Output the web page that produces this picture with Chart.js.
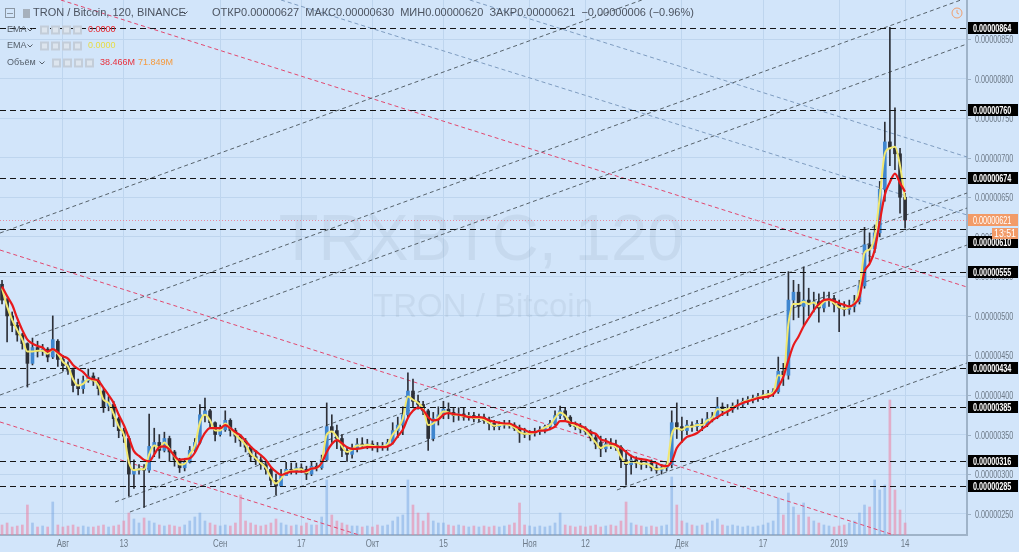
<!DOCTYPE html>
<html>
<head>
<meta charset="utf-8">
<title>TRXBTC, 120</title>
<script src="https://cdn.jsdelivr.net/npm/chart.js@4.4.1/dist/chart.umd.min.js"></script>
<style>
  html, body { margin: 0; padding: 0; background: #d2e5fa; }
  canvas { display: block; }
</style>
</head>
<body>
<canvas id="chart" width="1019" height="552"></canvas>
<script>
// day index: 0 = 1 Aug 2018, one candle per day
const firstDay = -12;

const openP = [
  540,520,500,488,476,465,440,460,455,458,448,468,
  445,437,432,412,408,418,424,418,405,386,388,370,
  355,345,300,305,307,305,335,340,330,345,328,318,
  308,315,330,340,375,380,365,350,356,368,355,348,
  342,334,322,318,312,306,292,285,298,306,304,308,
  306,300,310,308,318,360,355,345,330,325,333,338,
  336,338,336,334,336,340,355,362,375,405,392,388,
  380,345,370,375,382,378,374,376,372,374,370,372,
  368,364,360,362,364,362,358,352,350,352,354,356,
  360,364,374,380,372,362,360,357,354,346,340,332,
  338,336,334,318,312,318,314,312,314,308,305,308,
  312,365,360,355,362,360,364,362,370,372,385,380,
  382,386,388,392,394,396,398,400,402,404,430,425,
  520,530,512,520,515,518,510,520,522,515,510,508,
  512,518,538,590,585,605,660,720,712,705,650
];
const highP = [
  545,522,505,492,478,466,472,468,464,460,500,470,
  450,442,434,420,424,433,428,422,408,398,392,372,
  358,348,318,312,312,376,358,350,353,348,330,320,
  320,335,345,388,396,382,366,362,380,370,358,350,
  345,335,328,322,316,308,300,306,315,314,314,313,
  310,316,314,324,390,375,362,350,334,338,345,346,
  344,342,340,340,344,365,372,385,428,420,400,392,
  382,378,385,392,390,383,384,384,378,378,376,376,
  372,368,366,368,368,365,362,358,355,358,360,362,
  368,380,386,384,374,366,364,360,356,350,348,345,
  345,343,336,330,324,322,320,318,318,312,312,316,
  380,390,372,368,366,368,370,378,378,397,390,388,
  390,394,396,398,400,402,406,406,408,448,440,556,
  545,540,562,535,530,528,530,530,526,520,518,520,
  526,545,612,605,615,670,745,865,763,712,655
];
const lowP = [
  515,467,480,468,458,410,438,448,450,442,446,436,
  430,426,404,400,402,416,412,400,378,380,360,346,
  340,272,282,300,258,302,322,320,328,316,310,302,
  304,314,328,338,366,358,342,348,354,348,340,335,
  328,316,312,306,300,286,274,284,298,300,300,302,
  293,298,304,306,316,340,332,322,316,320,328,332,
  332,330,328,330,330,338,346,350,372,385,382,375,
  330,342,362,370,370,366,368,368,368,366,366,364,
  356,356,356,358,358,355,340,346,343,348,350,352,
  356,362,370,368,360,356,352,350,342,332,322,328,
  332,330,308,286,300,308,306,308,304,301,300,304,
  308,345,340,350,354,355,355,360,366,370,374,374,
  378,382,384,388,390,392,394,396,398,402,412,420,
  495,498,488,500,505,492,505,512,505,480,500,502,
  505,515,535,568,580,600,645,690,685,630,611
];
const closeP = [
  520,500,488,476,465,440,460,455,458,448,470,445,
  437,432,412,408,418,424,418,408,385,390,370,355,
  348,300,305,307,305,335,340,330,345,328,318,308,
  315,330,340,375,380,365,350,356,368,355,348,342,
  334,322,318,312,306,292,285,298,306,304,308,306,
  300,310,308,318,360,355,345,330,325,333,338,336,
  338,336,334,336,340,355,362,375,405,392,388,380,
  345,370,375,382,378,374,376,372,374,370,372,368,
  364,360,362,364,362,358,352,350,352,354,356,360,
  364,374,380,372,362,360,357,354,346,338,332,338,
  336,334,318,312,318,314,312,314,308,305,308,312,
  365,360,355,362,360,364,362,370,372,385,380,382,
  386,388,392,394,396,398,400,402,404,430,425,520,
  530,512,520,515,518,510,520,522,515,510,508,512,
  518,538,590,585,605,660,720,712,705,650,621
];
const emaFast = [
  535,512,495,482,470,455,455,456,456,452,458,452,
  442,436,420,412,414,420,419,412,394,390,376,360,
  350,315,305,306,306,325,336,333,340,332,322,312,
  313,325,336,365,375,368,355,355,364,358,350,344,
  337,326,320,314,308,296,288,294,303,304,306,306,
  302,307,308,315,350,354,347,335,328,331,336,336,
  337,336,335,335,338,350,358,370,398,394,390,383,
  362,364,372,379,378,375,375,373,373,371,371,369,
  365,361,362,363,362,359,353,351,351,353,355,359,
  362,371,378,374,365,361,358,355,348,340,333,336,
  336,334,322,314,316,315,313,313,310,306,307,310,
  350,358,356,360,360,362,362,368,371,382,381,382,
  385,387,391,393,395,397,399,401,403,425,424,490,
  515,515,518,515,517,512,518,520,516,511,509,511,
  516,533,580,584,600,650,705,712,714,690,647
];
const emaSlow = [
  537,525,514,497,482,470,465,462,460,455,458,454,
  449,446,438,433,429,422,420,418,409,400,390,375,
  362,346,329,323,318,316,325,334,335,331,323,318,
  319,320,327,340,352,358,358,358,362,358,353,349,
  342,335,329,324,318,309,303,299,301,303,303,303,
  304,307,308,314,328,338,343,339,334,332,332,333,
  334,334,334,334,335,339,348,356,371,380,384,381,
  372,368,369,375,377,376,375,374,372,372,372,371,
  368,366,365,364,364,361,358,356,353,353,355,355,
  357,360,367,367,365,364,361,358,353,351,344,342,
  339,337,333,328,323,320,319,318,316,314,311,310,
  316,333,341,347,349,352,357,362,368,372,376,379,
  383,387,390,392,394,396,397,398,401,410,423,444,
  463,474,487,497,507,515,520,521,519,516,514,512,
  515,524,556,566,583,619,653,669,680,668,657
];
const volume = [
  50,60,40,45,50,150,60,40,45,40,165,50,
  40,45,50,40,45,40,40,45,50,40,45,50,
  70,110,80,60,85,70,60,50,45,50,45,40,
  50,70,90,110,70,60,50,45,50,45,60,200,
  70,60,50,45,50,60,80,60,50,45,50,45,
  60,50,50,90,275,100,70,60,50,45,45,40,
  45,40,50,45,50,70,90,100,275,150,110,70,
  110,70,60,60,50,45,50,45,40,45,40,45,
  40,45,40,45,50,60,160,50,45,40,45,40,
  45,60,110,50,45,40,45,40,45,50,40,45,
  50,45,70,165,60,50,45,40,45,40,45,50,
  290,150,70,60,50,45,50,60,70,80,50,45,
  50,45,40,45,40,45,50,60,70,185,100,210,
  140,100,160,90,70,60,50,45,40,45,50,60,
  70,110,150,140,275,225,250,675,225,125,60
];

const tickDays = [0, 12, 31, 47, 61, 75, 92, 103, 122, 138, 153, 166];
const tickLabels = ['Авг', '13', 'Сен', '17', 'Окт', '15', 'Ноя', '12', 'Дек', '17', '2019', '14'];

// horizontal levels and last price (units of 1e-8 BTC)
const levels = [864, 760, 674, 610, 555, 434, 385, 316, 285];
const lastPrice = 621;
const lastOHLC = [627, 630, 620, 621];

// trend lines: [day1, price1, day2, price2]
const greyLines = [
  [-12.4, 604.8, 114.1, 899.4],
  [-5.5, 474.6, 177.0, 899.4],
  [-12.4, 400.0, 178.2, 843.8],
  [10.3, 264.7, 178.2, 655.4],
  [13.2, 252.1, 178.2, 636.4],
  [40.2, 268.5, 178.2, 589.6],
  [109.2, 279.9, 178.2, 440.5]
];
const blueLines = [
  [80.2, 899.4, 178.2, 700.9],
  [43.0, 899.4, 178.2, 627.6]
];
const redLines = [
  [-0.4, 899.4, 178.2, 536.5],
  [-12.4, 583.3, 163.8, 223.0],
  [-12.4, 365.9, 58.4, 223.0]
];

const BG = '#d2e5fa';
const GRID = '#bed5ee';
const AXIS = '#9fb3c8';
const FONT = '"Liberation Sans", Arial, sans-serif';
const UP = '#3f86cf';
const DOWN = '#2d3038';

const days = openP.map((_, i) => firstDay + i);
const pts = arr => days.map((d, i) => ({ x: d, y: arr[i] }));
const fmt = v => (v / 1e8).toFixed(8);

function trend(line, color) {
  return {
    type: 'line',
    data: [{ x: line[0], y: line[1] }, { x: line[2], y: line[3] }],
    borderColor: color,
    borderWidth: 1,
    borderDash: [4, 3],
    pointRadius: 0,
    yAxisID: 'y',
    order: 4
  };
}

const datasets = [
  {
    type: 'line', label: 'EMA slow', data: pts(emaSlow),
    borderColor: '#e8191b', borderWidth: 2.2, pointRadius: 0,
    cubicInterpolationMode: 'monotone', order: 0
  },
  {
    type: 'line', label: 'EMA fast', data: pts(emaFast),
    borderColor: '#f2e86f', borderWidth: 2, pointRadius: 0,
    cubicInterpolationMode: 'monotone', order: 1
  },
  {
    type: 'bar', label: 'body',
    data: days.map((d, i) => ({ x: d, y: [openP[i], closeP[i]] })),
    backgroundColor: days.map((d, i) => closeP[i] >= openP[i] ? UP : DOWN),
    barThickness: 3, grouped: false, order: 2
  },
  {
    type: 'bar', label: 'wick',
    data: days.map((d, i) => ({ x: d, y: [lowP[i], highP[i]] })),
    backgroundColor: DOWN, barThickness: 1, grouped: false, order: 3
  },
  ...greyLines.map(l => trend(l, '#56626b')),
  ...blueLines.map(l => trend(l, '#7e9cc0')),
  ...redLines.map(l => trend(l, '#e2486f')),
  {
    type: 'bar', label: 'volume', yAxisID: 'yv',
    data: pts(volume),
    backgroundColor: days.map((d, i) => closeP[i] >= openP[i] ? 'rgba(110,160,225,0.45)' : 'rgba(236,128,160,0.55)'),
    barThickness: 2, grouped: false, order: 6
  }
];

function sq(ctx, text, x, y, sx, align) {
  ctx.save();
  ctx.translate(x, y);
  ctx.scale(sx, 1);
  ctx.textAlign = align || 'left';
  ctx.fillText(text, 0, 0);
  ctx.restore();
}

function chevron(ctx, x, y, color) {
  ctx.save();
  ctx.strokeStyle = color;
  ctx.lineWidth = 1;
  ctx.beginPath();
  ctx.moveTo(x - 2.5, y - 1.5);
  ctx.lineTo(x, y + 1);
  ctx.lineTo(x + 2.5, y - 1.5);
  ctx.stroke();
  ctx.restore();
}

function icons(ctx, x, y) {
  ctx.save();
  for (let k = 0; k < 4; k++) {
    ctx.fillStyle = '#c3cdd9';
    ctx.fillRect(x + k * 11, y - 4.5, 9, 9);
    ctx.fillStyle = '#dde5ee';
    ctx.fillRect(x + k * 11 + 2, y - 2.5, 5, 5);
  }
  ctx.restore();
}

const decor = {
  id: 'decor',
  beforeDraw(chart) {
    const { ctx, width, height } = chart;
    ctx.save();
    ctx.fillStyle = BG;
    ctx.fillRect(0, 0, width, height);
    ctx.restore();
  },
  beforeDatasetsDraw(chart) {
    const { ctx } = chart;
    ctx.save();
    ctx.fillStyle = 'rgba(95,115,140,0.10)';
    ctx.textAlign = 'center';
    ctx.textBaseline = 'alphabetic';
    ctx.font = '65px ' + FONT;
    ctx.fillText('TRXBTC, 120', 481, 260);
    ctx.font = '33px ' + FONT;
    ctx.fillText('TRON / Bitcoin', 483, 317);
    ctx.restore();
  },
  afterDatasetsDraw(chart) {
    const { ctx, chartArea: a } = chart;
    const ys = chart.scales.y;
    ctx.save();
    ctx.beginPath();
    ctx.rect(a.left, a.top, a.width, a.height);
    ctx.clip();
    ctx.strokeStyle = '#141414';
    ctx.lineWidth = 1;
    ctx.setLineDash([6, 4]);
    levels.forEach(v => {
      const y = Math.round(ys.getPixelForValue(v)) + 0.5;
      ctx.beginPath();
      ctx.moveTo(a.left, y);
      ctx.lineTo(a.right, y);
      ctx.stroke();
    });
    ctx.strokeStyle = '#e88aa0';
    ctx.setLineDash([1, 2]);
    const yp = Math.round(ys.getPixelForValue(lastPrice)) + 0.5;
    ctx.beginPath();
    ctx.moveTo(a.left, yp);
    ctx.lineTo(a.right, yp);
    ctx.stroke();
    ctx.restore();
  },
  afterDraw(chart) {
    const { ctx, chartArea: a } = chart;
    const ys = chart.scales.y, xs = chart.scales.x;
    ctx.save();

    // price axis labels
    ctx.font = '11px ' + FONT;
    ctx.textBaseline = 'middle';
    ys.ticks.forEach(t => {
      const y = Math.round(ys.getPixelForValue(t.value)) + 0.5;
      ctx.strokeStyle = AXIS;
      ctx.lineWidth = 1;
      ctx.beginPath();
      ctx.moveTo(a.right, y);
      ctx.lineTo(a.right + 4, y);
      ctx.stroke();
      ctx.fillStyle = '#6d7a88';
      sq(ctx, fmt(t.value), a.right + 8, y, 0.66);
    });

    // time axis labels
    ctx.fillStyle = '#6d7a88';
    tickDays.forEach((d, i) => {
      sq(ctx, tickLabels[i], xs.getPixelForValue(d), a.bottom + 9, 0.72, 'center');
    });

    // level boxes (pushed below the last-price tag when they would collide)
    const yp = Math.round(ys.getPixelForValue(lastPrice));
    ctx.font = 'bold 11px ' + FONT;
    levels.forEach(v => {
      let y = Math.round(ys.getPixelForValue(v));
      if (Math.abs(y - yp) < 20) y = yp + 22;
      ctx.fillStyle = '#000';
      ctx.fillRect(a.right + 1, y - 6, 50, 12);
      ctx.fillStyle = '#fff';
      sq(ctx, fmt(v), a.right + 6, y + 0.5, 0.66);
    });

    // last price box and countdown
    ctx.fillStyle = '#f29b68';
    ctx.fillRect(a.right + 1, yp - 6, 50, 12);
    ctx.fillRect(a.right + 25, yp + 8, 26, 11);
    ctx.fillStyle = '#fff';
    ctx.font = '11px ' + FONT;
    sq(ctx, fmt(lastPrice), a.right + 6, yp + 0.5, 0.66);
    sq(ctx, '13:51', a.right + 38, yp + 13.5, 0.8, 'center');

    // header
    ctx.textBaseline = 'middle';
    ctx.strokeStyle = '#8a96a3';
    ctx.lineWidth = 1;
    ctx.strokeRect(5.5, 8.5, 9, 9);
    ctx.beginPath();
    ctx.moveTo(7, 13.5);
    ctx.lineTo(13, 13.5);
    ctx.stroke();
    ctx.fillStyle = '#a6b0bc';
    ctx.fillRect(23, 9, 7, 9);
    ctx.fillStyle = '#4b5360';
    ctx.font = '11px ' + FONT;
    ctx.fillText('TRON / Bitcoin, 120, BINANCE', 33, 13);
    chevron(ctx, 185, 13, '#4b5360');
    const diff = lastOHLC[3] - lastOHLC[0];
    const pct = (diff / lastOHLC[0] * 100).toFixed(2);
    ctx.fillText(
      'ОТКР' + fmt(lastOHLC[0]) + '  МАКС' + fmt(lastOHLC[1]) + '  МИН' + fmt(lastOHLC[2]) +
      '  ЗАКР' + fmt(lastOHLC[3]) + '  ' + fmt(diff).replace('-', '−') + ' (' + pct.replace('-', '−') + '%)', 212, 13);

    // indicator rows
    ctx.font = '9px ' + FONT;
    ctx.fillStyle = '#56606c';
    ctx.fillText('EMA', 7, 30);
    chevron(ctx, 30, 30, '#56606c');
    icons(ctx, 40, 30);
    ctx.fillStyle = '#e8262e';
    ctx.fillText('0.0000', 88, 30);

    ctx.fillStyle = '#56606c';
    ctx.fillText('EMA', 7, 46);
    chevron(ctx, 30, 46, '#56606c');
    icons(ctx, 40, 46);
    ctx.fillStyle = '#e6dc45';
    ctx.fillText('0.0000', 88, 46);

    ctx.fillStyle = '#56606c';
    ctx.fillText('Объём', 7, 63);
    chevron(ctx, 42, 63, '#56606c');
    icons(ctx, 52, 63);
    ctx.fillStyle = '#e8303c';
    ctx.fillText('38.466M', 100, 63);
    ctx.fillStyle = '#f59a3d';
    ctx.fillText('71.849M', 138, 63);

    // clock icon
    ctx.strokeStyle = '#f0a070';
    ctx.beginPath();
    ctx.arc(957, 13, 5, 0, Math.PI * 2);
    ctx.stroke();
    ctx.beginPath();
    ctx.moveTo(957, 10);
    ctx.lineTo(957, 13);
    ctx.lineTo(959, 14);
    ctx.stroke();

    ctx.restore();
  }
};

new Chart(document.getElementById('chart'), {
  type: 'line',
  data: { datasets },
  options: {
    responsive: false,
    animation: false,
    events: [],
    layout: { padding: 0 },
    plugins: { legend: { display: false }, tooltip: { enabled: false } },
    scales: {
      x: {
        type: 'linear',
        min: -12.4,
        max: 178.2,
        offset: false,
        grid: { color: GRID, offset: false, drawTicks: false },
        border: { display: true, color: AXIS, width: 2 },
        ticks: { display: false },
        afterBuildTicks: scale => { scale.ticks = tickDays.map(v => ({ value: v })); },
        afterFit: scale => { scale.height = 17; }
      },
      y: {
        type: 'linear',
        position: 'right',
        min: 223,
        max: 899.4,
        grid: { color: GRID, drawTicks: false },
        border: { display: true, color: AXIS, width: 2 },
        ticks: { display: false, stepSize: 50, includeBounds: false },
        afterFit: scale => { scale.width = 52; }
      },
      yv: {
        type: 'linear',
        display: false,
        min: 0,
        max: 2675
      }
    }
  },
  plugins: [decor]
});
</script>
</body>
</html>
